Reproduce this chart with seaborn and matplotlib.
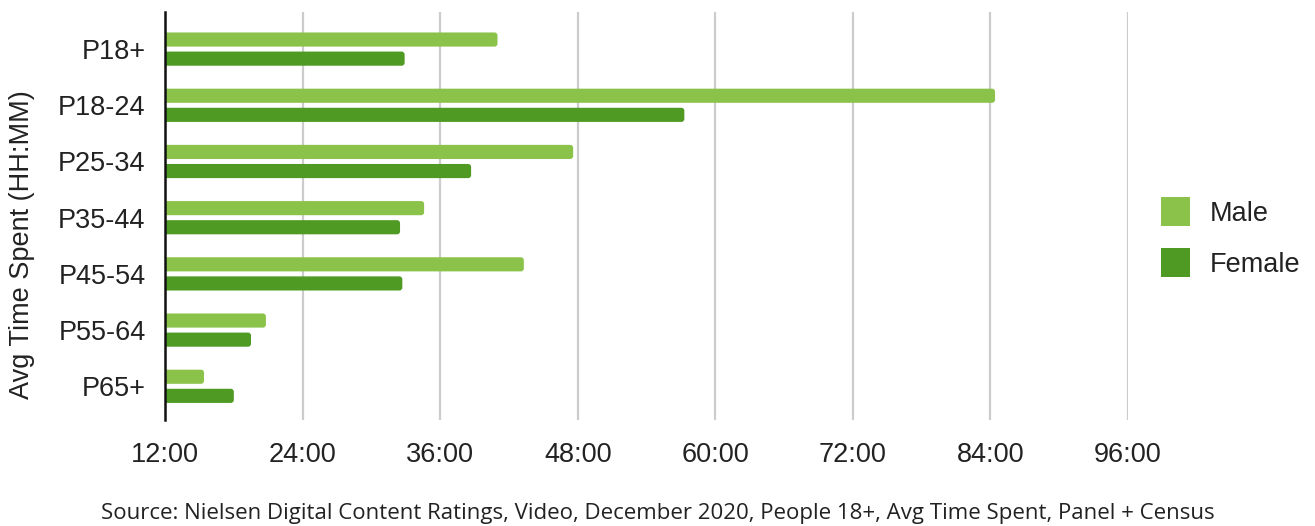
import matplotlib
matplotlib.use("Agg")
import matplotlib.pyplot as plt
from matplotlib.patches import FancyBboxPatch, Patch
from matplotlib.ticker import FixedLocator, FuncFormatter
import pandas as pd
import seaborn as sns

# Average monthly video time spent, in hours
age_groups = ["P18+", "P18-24", "P25-34", "P35-44", "P45-54", "P55-64", "P65+"]
male_hours = [41.0, 84.4, 47.6, 34.6, 43.3, 20.8, 15.4]
female_hours = [32.9, 57.3, 38.7, 32.5, 32.7, 19.5, 18.0]
x_ticks = [12, 24, 36, 48, 60, 72, 84, 96]
series_names = ["Male", "Female"]
series_colors = ["#8BC34A", "#4E9A22"]

df = pd.DataFrame({
    "group": age_groups * 2,
    "hours": male_hours + female_hours,
    "sex": [series_names[0]] * len(age_groups) + [series_names[1]] * len(age_groups),
})

sns.set_theme(style="white")
plt.rcParams["font.family"] = ["Liberation Sans", "DejaVu Sans"]

LABEL_SIZE = 19.5

fig = plt.figure(figsize=(13.15, 5.26), dpi=100)
ax = fig.add_axes([0.1255, 0.2015, 0.7323, 0.7757])

sns.barplot(data=df, y="group", x="hours", hue="sex", order=age_groups,
            hue_order=series_names, palette=series_colors, orient="h",
            width=0.68, gap=0.26, ax=ax, legend=False, saturation=1)

ax.set_xlim(12, 96)
ax.set_ylim(6.6, -0.66)

# replace rectangles with rounded bars of the same geometry
px_per_x = 0.7323 * 1315 / (96 - 12)
px_per_y = 0.7757 * 526 / (6.6 + 0.66)
rects = list(ax.patches)
for r in rects:
    x0, y0 = r.get_x(), r.get_y()
    w, h = r.get_width(), r.get_height()
    if w <= 0:
        continue
    rad = 3.0 / px_per_x
    fb = FancyBboxPatch((x0, y0), w, h,
                        boxstyle=f"round,pad=0,rounding_size={rad}",
                        mutation_aspect=px_per_x / px_per_y,
                        facecolor=r.get_facecolor(), edgecolor="none",
                        clip_on=True, zorder=3)
    r.remove()
    ax.add_patch(fb)

ax.xaxis.set_major_locator(FixedLocator(x_ticks))
ax.xaxis.set_major_formatter(FuncFormatter(lambda v, p: f"{int(v)}:00"))
ax.grid(axis="x", color="#CCCCCC", linewidth=1.6, zorder=0)
ax.grid(axis="y", visible=False)
ax.set_axisbelow(True)
for s in ["top", "right", "bottom"]:
    ax.spines[s].set_visible(False)
ax.spines["left"].set_color("#111111")
ax.spines["left"].set_linewidth(1.8)
ax.spines["left"].set_zorder(5)
ax.tick_params(axis="both", length=0, labelsize=LABEL_SIZE, colors="#222222")
ax.tick_params(axis="x", pad=16)
ax.tick_params(axis="y", pad=14)
ax.set_xlabel("")
ax.set_ylabel("")

fig.text(22 / 1315, 1 - 245 / 526, "Avg Time Spent (HH:MM)", rotation=90,
         ha="center", va="center", fontsize=LABEL_SIZE, color="#222222")

handles = [Patch(facecolor=c, edgecolor="none") for c in series_colors]
fig.legend(handles, series_names, loc="center left",
           bbox_to_anchor=(1137 / 1315, 1 - 237.5 / 526), frameon=False,
           fontsize=LABEL_SIZE, handlelength=1.07, handleheight=1.25,
           labelspacing=0.8, handletextpad=0.72, labelcolor="#222222")

fig.text(0.5, 1 - 513 / 526,
         "Source: Nielsen Digital Content Ratings, Video, December 2020, People 18+, Avg Time Spent, Panel + Census",
         ha="center", va="center", fontsize=16, family=["Open Sans", "DejaVu Sans"],
         color="#222222")

fig.savefig("out.png", dpi=100)
